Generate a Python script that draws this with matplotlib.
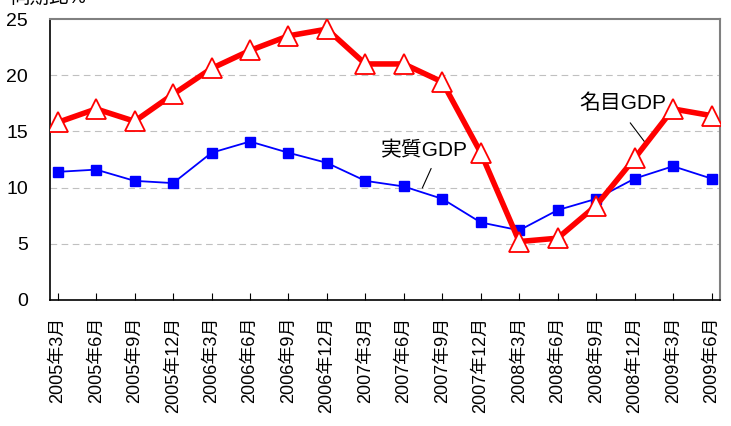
import numpy as np
import matplotlib.pyplot as plt

plt.rcParams['font.family'] = ['Liberation Sans', 'Noto Sans CJK JP']

labels = ['2005年3月', '2005年6月', '2005年9月', '2005年12月',
          '2006年3月', '2006年6月', '2006年9月', '2006年12月',
          '2007年3月', '2007年6月', '2007年9月', '2007年12月',
          '2008年3月', '2008年6月', '2008年9月', '2008年12月',
          '2009年3月', '2009年6月']
nominal = [15.8, 17.0, 15.9, 18.3, 20.6, 22.2, 23.5, 24.1, 21.0, 21.0,
           19.4, 13.1, 5.2, 5.5, 8.4, 12.6, 17.0, 16.4]
real = [11.4, 11.6, 10.6, 10.4, 13.1, 14.1, 13.1, 12.2, 10.6, 10.1,
        9.0, 6.9, 6.2, 8.0, 9.0, 10.8, 11.9, 10.8]

fig = plt.figure(figsize=(7.31, 4.26), dpi=100)
ax = fig.add_axes([50 / 731, 1 - 300 / 426, 670 / 731, 281 / 426])

x = np.arange(len(labels))
ax.plot(x, real, color='#0000ff', lw=1.3, marker='s', ms=7, zorder=3)
ax.plot(x, nominal, color='#ff0000', lw=4, marker='^', ms=14,
        markerfacecolor='white', markeredgecolor='#ff0000', markeredgewidth=1.3, zorder=4)

ax.set_ylim(0, 25)
ax.set_yticks(range(0, 26, 5))
ax.set_xlim(-0.2, 17.22)
ax.set_xticks(x)
ax.set_xticklabels(labels, rotation=90, fontsize=13)
ax.tick_params(axis='y', length=0, labelsize=14, pad=16)
ax.tick_params(axis='x', direction='in', length=5, pad=12)
for v in range(5, 25, 5):
    ax.axhline(v, color='#c0c0c0', lw=0.8, ls=(0, (6, 4)), zorder=1)
for s in ['top', 'right']:
    ax.spines[s].set_color('#808080')
    ax.spines[s].set_linewidth(1.5)
for s in ['left', 'bottom']:
    ax.spines[s].set_color('black')
    ax.spines[s].set_linewidth(1.2)

ax.annotate('実質GDP', xy=(9.48, 9.96), xytext=(9.53, 12.4), fontsize=15,
            ha='center', va='bottom',
            arrowprops=dict(arrowstyle='-', color='black', lw=0.8,
                            relpos=(0.62, 0), shrinkA=4, shrinkB=0))
ax.annotate('名目GDP', xy=(15.32, 13.8), xytext=(14.7, 16.6), fontsize=15,
            ha='center', va='bottom',
            arrowprops=dict(arrowstyle='-', color='black', lw=0.8,
                            relpos=(0.5, 0), shrinkA=6, shrinkB=0))

fig.text(10 / 731, 1 + 2 / 426, '同期比%', fontsize=14, va='center', ha='left')

fig.savefig('out.png', dpi=100)
